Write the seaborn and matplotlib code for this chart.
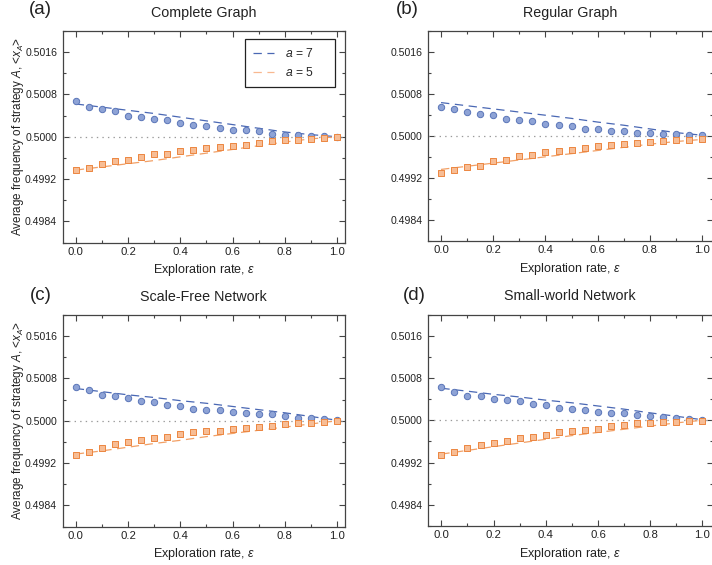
import numpy as np
import pandas as pd
import seaborn as sns
import matplotlib.pyplot as plt
from matplotlib.ticker import FixedLocator, MultipleLocator, FormatStrFormatter
from matplotlib.lines import Line2D

# exploration rates of the simulation points and of the theory curves
eps = [0.0, 0.05, 0.1, 0.15, 0.2, 0.25, 0.3, 0.35, 0.4, 0.45, 0.5,
       0.55, 0.6, 0.65, 0.7, 0.75, 0.8, 0.85, 0.9, 0.95, 1.0]
eps_line = [0.0, 0.1, 0.2, 0.3, 0.4, 0.5, 0.6, 0.7, 0.8, 0.9, 1.0]

# (a) complete graph
a7_complete = [0.50067, 0.50057, 0.50052, 0.50048, 0.50040, 0.50038, 0.50034, 0.50032, 0.50026, 0.50022, 0.50021,
               0.50017, 0.50013, 0.50012, 0.50011, 0.50005, 0.50003, 0.50003, 0.50002, 0.50002, 0.50000]
a5_complete = [0.49937, 0.49941, 0.49949, 0.49954, 0.49956, 0.49962, 0.49967, 0.49967, 0.49973, 0.49975, 0.49978,
               0.49981, 0.49983, 0.49985, 0.49988, 0.49992, 0.49993, 0.49994, 0.49996, 0.49997, 0.49999]
a7_complete_th = [0.50062, 0.50056, 0.50050, 0.50044, 0.50037, 0.50030, 0.50023, 0.50016, 0.50009, 0.50004, 0.50000]
a5_complete_th = [0.49937, 0.49943, 0.49949, 0.49955, 0.49962, 0.49969, 0.49976, 0.49983, 0.49990, 0.49996, 0.50000]

# (b) regular graph
a7_regular = [0.500542, 0.500510, 0.500452, 0.500419, 0.500393, 0.500323, 0.500303, 0.500277, 0.500232, 0.500200, 0.500181,
              0.500135, 0.500123, 0.500090, 0.500084, 0.500052, 0.500045, 0.500032, 0.500026, 0.500013, 0.500006]
a5_regular = [0.499297, 0.499349, 0.499407, 0.499432, 0.499516, 0.499548, 0.499613, 0.499632, 0.499690, 0.499703, 0.499723,
              0.499761, 0.499806, 0.499832, 0.499852, 0.499865, 0.499884, 0.499897, 0.499910, 0.499923, 0.499935]
a7_regular_th = [0.50063, 0.50057, 0.50051, 0.50045, 0.50039, 0.50033, 0.50026, 0.50020, 0.50013, 0.50006, 0.50001]
a5_regular_th = [0.49936, 0.49942, 0.49948, 0.49954, 0.49960, 0.49966, 0.49972, 0.49978, 0.49984, 0.49989, 0.49993]

# (c) scale-free network
a7_scalefree = [0.500630, 0.500573, 0.500479, 0.500460, 0.500422, 0.500365, 0.500359, 0.500296, 0.500271, 0.500227, 0.500208,
                0.500208, 0.500158, 0.500151, 0.500120, 0.500120, 0.500082, 0.500057, 0.500050, 0.500025, 0.500006]
a5_scalefree = [0.499357, 0.499408, 0.499477, 0.499553, 0.499603, 0.499641, 0.499666, 0.499691, 0.499748, 0.499786, 0.499798,
                0.499805, 0.499842, 0.499868, 0.499880, 0.499905, 0.499937, 0.499956, 0.499962, 0.499975, 0.500000]
a7_scalefree_th = [0.50061, 0.50055, 0.50049, 0.50044, 0.50038, 0.50033, 0.50027, 0.50021, 0.50015, 0.50008, 0.50001]
a5_scalefree_th = [0.49937, 0.49943, 0.49950, 0.49957, 0.49963, 0.49970, 0.49976, 0.49982, 0.49988, 0.49994, 0.50000]

# (d) small-world network
a7_smallworld = [0.500636, 0.500536, 0.500466, 0.500460, 0.500397, 0.500384, 0.500359, 0.500309, 0.500296, 0.500239, 0.500214,
                 0.500202, 0.500158, 0.500139, 0.500132, 0.500107, 0.500082, 0.500063, 0.500050, 0.500025, 0.500006]
a5_smallworld = [0.499351, 0.499401, 0.499483, 0.499534, 0.499565, 0.499603, 0.499666, 0.499679, 0.499716, 0.499773, 0.499798,
                 0.499817, 0.499842, 0.499893, 0.499918, 0.499943, 0.499950, 0.499968, 0.499975, 0.499987, 0.499994]
a7_smallworld_th = [0.500605, 0.50055, 0.50049, 0.50044, 0.50038, 0.50033, 0.50027, 0.50021, 0.50014, 0.500075, 0.50001]
a5_smallworld_th = [0.49936, 0.49943, 0.49950, 0.49957, 0.49964, 0.49971, 0.49977, 0.49983, 0.49989, 0.49995, 0.50000]

titles = ['Complete Graph', 'Regular Graph', 'Scale-Free Network', 'Small-world Network']
letters = ['(a)', '(b)', '(c)', '(d)']
yticks = [0.4984, 0.4992, 0.5000, 0.5008, 0.5016]

# ---------------------------------------------------------------

sns.set_theme(style='ticks')
plt.rcParams['font.family'] = ['Liberation Sans', 'DejaVu Sans']
plt.rcParams['mathtext.fontset'] = 'custom'
plt.rcParams['mathtext.rm'] = 'Liberation Sans'
plt.rcParams['mathtext.it'] = 'Liberation Sans:italic'
plt.rcParams['lines.scale_dashes'] = False

blue_line = '#4a68b4'
blue_face = '#8ea3d6'
blue_edge = '#5a75b8'
orange_line = '#f2a066'
orange_face = '#f7bd95'
orange_edge = '#ec8640'
frame = '#444444'
dash = (0, (6, 4))

W, H = 712, 565
fig = plt.figure(figsize=(7.12, 5.65), dpi=100)

# pixel boxes: left, top, right, bottom
boxes = [(62.7, 31, 345, 242.5), (428, 30.5, 712.5, 241),
         (62.7, 315, 345, 526.5), (428.3, 314.5, 712.8, 526)]
title_y = [13, 12.5, 297, 296.5]
letter_pos = [(40, 10), (407.5, 9), (41, 296), (414, 296)]

panels = [
    (a7_complete, a5_complete, a7_complete_th, a5_complete_th),
    (a7_regular, a5_regular, a7_regular_th, a5_regular_th),
    (a7_scalefree, a5_scalefree, a7_scalefree_th, a5_scalefree_th),
    (a7_smallworld, a5_smallworld, a7_smallworld_th, a5_smallworld_th),
]

for i, (b_sim, o_sim, b_th, o_th) in enumerate(panels):
    l, t, r, b = boxes[i]
    ax = fig.add_axes([l / W, 1 - b / H, (r - l) / W, (b - t) / H])

    ax.axhline(0.5, color='#9a9a9a', ls=(0, (1, 3)), lw=0.9, zorder=1)
    sns.lineplot(x=eps_line, y=b_th, ax=ax, color=blue_line, lw=0.9, ls=dash, zorder=2)
    sns.lineplot(x=eps_line, y=o_th, ax=ax, color=orange_line, lw=0.9, ls=dash, zorder=2)
    sns.scatterplot(x=eps, y=b_sim, ax=ax, marker='o', s=21, color=blue_face,
                    edgecolor=blue_edge, linewidth=0.7, zorder=3)
    sns.scatterplot(x=eps, y=o_sim, ax=ax, marker='s', s=17, color=orange_face,
                    edgecolor=orange_edge, linewidth=0.7, zorder=3)

    ax.set_xlim(-0.05, 1.03 if i % 2 == 0 else 1.04)
    ax.set_ylim(0.4980, 0.5020)
    ax.yaxis.set_major_locator(FixedLocator(yticks))
    ax.yaxis.set_major_formatter(FormatStrFormatter('%.4f'))
    ax.yaxis.set_minor_locator(FixedLocator([0.4980, 0.4988, 0.4996, 0.5004, 0.5012, 0.5020]))
    ax.xaxis.set_major_locator(FixedLocator([0.0, 0.2, 0.4, 0.6, 0.8, 1.0]))
    ax.xaxis.set_major_formatter(FormatStrFormatter('%.1f'))
    ax.xaxis.set_minor_locator(MultipleLocator(0.1))
    ax.tick_params(which='both', direction='in', top=True, right=True,
                   color=frame, width=0.8, labelcolor='#222222')
    ax.tick_params(which='major', length=4)
    ax.tick_params(which='minor', length=2.5)
    ax.tick_params(axis='x', labelsize=8.2, pad=3)
    ax.tick_params(axis='y', labelsize=7.6, pad=4)
    for s in ax.spines.values():
        s.set_color(frame)
        s.set_linewidth(0.9)

    ax.set_xlabel('Exploration rate, $\\varepsilon$', fontsize=9, labelpad=4, color='#222222')
    if i % 2 == 0:
        ax.set_ylabel('Average frequency of strategy $A$, <$x_A$>', fontsize=8.4,
                      labelpad=-0.5, color='#222222')
    else:
        ax.set_ylabel('')

    fig.text((l + r) / 2 / W if i % 2 == 0 else 570 / W, 1 - title_y[i] / H, titles[i],
             ha='center', va='center', fontsize=10.3, color='#222222')
    fig.text(letter_pos[i][0] / W, 1 - letter_pos[i][1] / H, letters[i],
             ha='center', va='center', fontsize=13.5, color='#222222')

    if i == 0:
        handles = [Line2D([], [], color=blue_line, lw=0.9, ls=dash, label='$a$ = 7'),
                   Line2D([], [], color='#f8b890', lw=0.9, ls=dash, label='$a$ = 5')]
        x0 = (245 - l) / (r - l)
        w = 90 / (r - l)
        top = 1 - (39 - t) / (b - t)
        leg = ax.legend(handles=handles, loc='upper left', bbox_to_anchor=(x0, top - 0.3, w, 0.3),
                        mode='expand', borderaxespad=0, fontsize=8.7, handlelength=1.7,
                        handletextpad=0.9, borderpad=0.7, labelspacing=0.45, fancybox=False,
                        edgecolor='#222222', framealpha=1)
        leg.get_frame().set_linewidth(0.9)

fig.savefig('out.png', dpi=100)
